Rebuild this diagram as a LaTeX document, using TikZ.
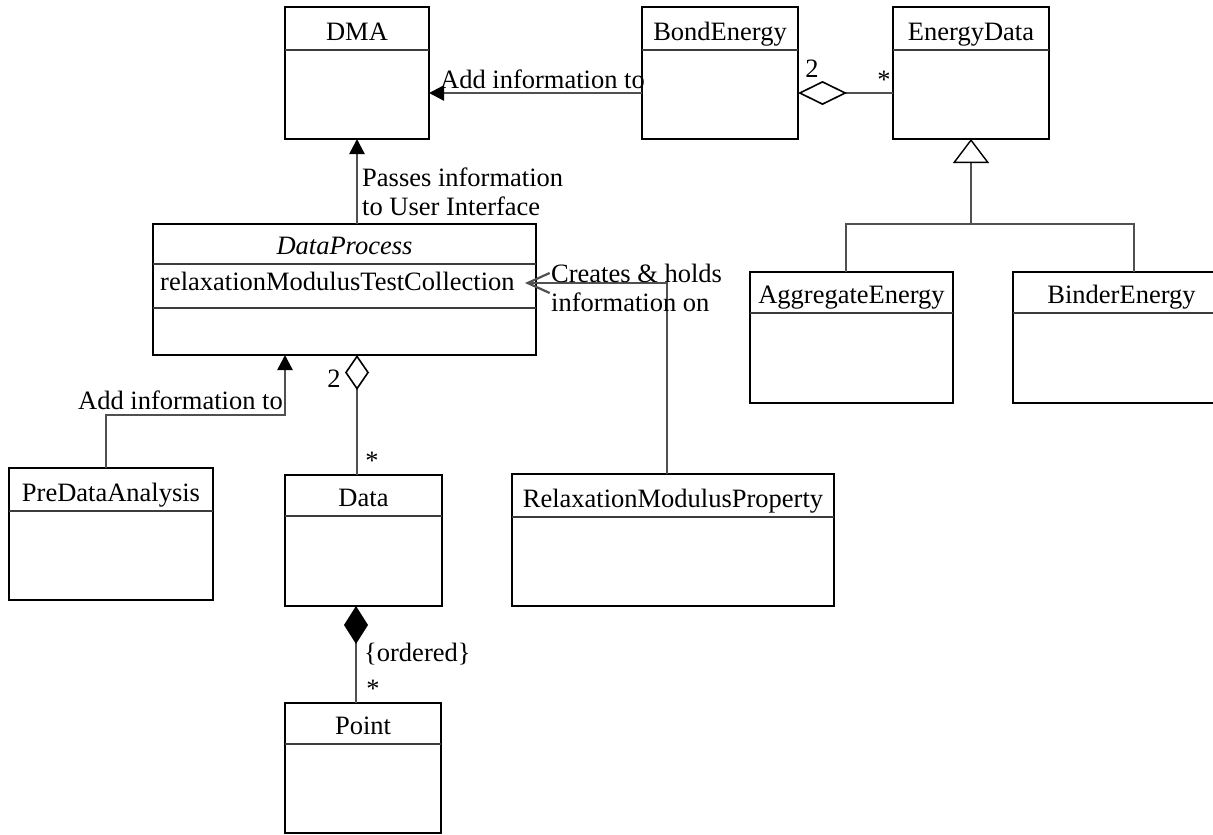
\documentclass[tikz,border=0pt]{standalone}
\usepackage{fontspec}
\setmainfont{Liberation Serif}
\usetikzlibrary{arrows.meta,calc}
\definecolor{conncol}{RGB}{80,80,80}
\definecolor{sepcol}{RGB}{60,60,60}
\tikzset{
  clsbox/.style={draw=black,line width=1.8pt,inner sep=0pt,outer sep=0pt,anchor=north west,fill=white},
  sepline/.style={draw=sepcol,line width=1.8pt},
  clstitle/.style={inner sep=0pt,anchor=base,font=\fontsize{26.5}{28}\selectfont},
  lbl/.style={inner sep=0pt,font=\fontsize{26.5}{29}\selectfont,align=left},
  conn/.style={draw=conncol,line width=2.4pt},
  filledtip/.style={-{Triangle[length=15pt,width=15pt,fill=black,color=black]}},
  gentip/.style={-{Triangle[open,length=24pt,width=36pt,fill=white,color=black,line width=1.4pt]}},
  aggtip/.style={{Diamond[open,length=49pt,width=24pt,fill=white,color=black,line width=1.6pt]}-},
  aggtipv/.style={{Diamond[open,length=35pt,width=24pt,fill=white,color=black,line width=1.6pt]}-},
  comptip/.style={{Diamond[length=38pt,width=24pt,fill=black,color=black]}-},
  opentip/.style={-{Straight Barb[length=22pt,width=20pt,color=conncol,line width=2.2pt]}}
}
\newcommand\umlbox[7]{%
  \node[clsbox,minimum width=#4-#2,minimum height=#5-#3] (#1) at (#2,#3) {};
  \draw[sepline] (#2,#6) -- (#4,#6);
  \node[clstitle] (#1-t) at ({(#2+#4)/2},{#6-10}) {#7};
}
\begin{document}
\begin{tikzpicture}[x=1pt,y=-1pt]
\useasboundingbox (0,0) rectangle (1213,835);
\clip (0,0) rectangle (1213,835);

% classes
\umlbox{dma}{285}{7}{429}{139}{50}{DMA}
\umlbox{be}{642}{7}{798}{139}{50}{BondEnergy}
\umlbox{ed}{893}{7}{1049}{139}{50}{EnergyData}
\umlbox{ae}{750}{272}{953}{403}{313}{AggregateEnergy}
\umlbox{bi}{1013}{272}{1230}{403}{313}{BinderEnergy}
\umlbox{dp}{153}{224}{536}{355}{264}{\itshape DataProcess}
\draw[sepline] (153,308) -- (536,308);
\node[lbl,anchor=base west] (attr) at (160,290) {relaxationModulusTestCollection};
\umlbox{pda}{9}{468}{213}{600}{511}{PreDataAnalysis}
\umlbox{data}{285}{475}{442}{606}{516}{Data}
\umlbox{rmp}{512}{474}{834}{606}{517}{RelaxationModulusProperty}
\umlbox{pt}{285}{703}{441}{833}{744}{Point}

% BondEnergy -> DMA
\draw[conn,filledtip] ([yshift=-86pt]be.north west) -- ([yshift=-86pt]dma.north east);
\node[lbl,anchor=base west] (l1) at (440,88) {Add information to};

% DataProcess -> DMA
\draw[conn,filledtip] (dp.north -| dma.south) -- (dma.south);
\node[lbl,anchor=west] (l2) at (362,192) {Passes information\\to User Interface};

% BondEnergy <>- EnergyData
\draw[conn,aggtip] ([yshift=-86pt]be.north east) -- ([yshift=-86pt]ed.north west);
\node[lbl] (m1) at (812,69) {2};
\node[lbl] (m2) at (884,80) {*};

% generalisation
\coordinate (gj) at (ed.south |- 0,224);
\draw[conn,gentip] (gj) -- (ed.south);
\draw[conn] (ae.north -| 846,0) |- (gj) -| (bi.north -| 1134,0);

% PreDataAnalysis -> DataProcess
\coordinate (pj) at (106,415);
\draw[conn,filledtip] (pda.north -| pj) -- (pj) -| (dp.south -| 285,0);
\node[lbl,anchor=base east] (l3) at (283,409) {Add information to};

% DataProcess <>- Data
\draw[conn,aggtipv] (dp.south -| 357,0) -- (data.north -| 357,0);
\node[lbl] (m3) at (334,379) {2};
\node[lbl] (m4) at (372,461) {*};

% Data <#>- Point
\draw[conn,comptip] (data.south -| 356,0) -- (pt.north -| 356,0);
\node[lbl,anchor=base west] (l4) at (364,661) {\{ordered\}};
\node[lbl] (m5) at (373,689) {*};

% RelaxationModulusProperty -> attribute
\coordinate (rj) at (667,283);
\draw[conn,opentip] (rmp.north -| rj) -- (rj) -- (525,283);
\node[lbl,anchor=west] (l5) at (551,288) {Creates \& holds\\information on};
\end{tikzpicture}
\end{document}
